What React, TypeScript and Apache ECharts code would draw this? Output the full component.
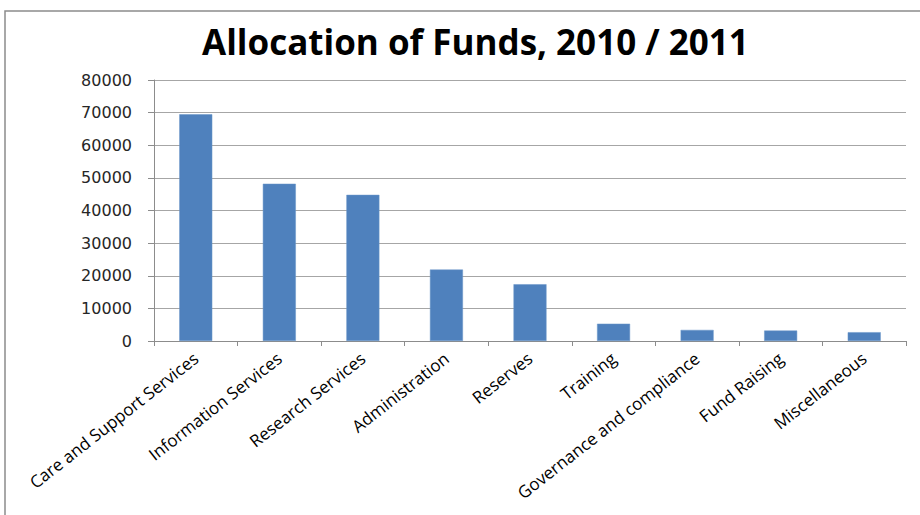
import React, { useEffect, useRef } from "react";
import * as echarts from "echarts";

const categories = [
  "Care and Support Services",
  "Information Services",
  "Research Services",
  "Administration",
  "Reserves",
  "Training",
  "Governance and compliance",
  "Fund Raising",
  "Miscellaneous",
];
const values = [69500, 48200, 44800, 21900, 17400, 5300, 3400, 3200, 2700];
const titleText = "Allocation of Funds, 2010 / 2011";

export default function App() {
  const ref = useRef<HTMLDivElement>(null);
  useEffect(() => {
    if (!ref.current) return;
    const chart = echarts.init(ref.current, null, { renderer: "svg" });
    chart.setOption({
      animation: false,
      backgroundColor: "#ffffff",
      title: {
        text: titleText,
        left: 197,
        top: 19,
        textStyle: {
          fontFamily: "Open Sans",
          fontWeight: "bold",
          fontSize: 35,
          color: "#000000",
        },
      },
      graphic: [
        {
          type: "rect",
          shape: { x: 5, y: 11, width: 1000, height: 600 },
          style: { fill: "none", stroke: "#8c8c8c", lineWidth: 1.5 },
          silent: true,
        },
      ],
      grid: { left: 154, right: 14, top: 80, bottom: 174 },
      xAxis: {
        type: "category",
        data: categories,
        axisLine: { lineStyle: { color: "#8c8c8c", width: 1 } },
        axisTick: { show: true, length: 5, lineStyle: { color: "#8c8c8c" } },
        axisLabel: {
          rotate: 38,
          interval: 0,
          margin: 15,
          fontFamily: "Open Sans",
          fontSize: 17,
          color: "#000000",
        },
      },
      yAxis: {
        type: "value",
        min: 0,
        max: 80000,
        interval: 10000,
        axisLine: { show: true, lineStyle: { color: "#8c8c8c", width: 1 } },
        axisTick: { show: true, length: 6, lineStyle: { color: "#8c8c8c" } },
        splitLine: { lineStyle: { color: "#a6a6a6", width: 1 } },
        axisLabel: {
          margin: 22,
          fontFamily: "DejaVu Sans",
          fontSize: 16,
          color: "#262626",
          formatter: (v: number) => String(v),
        },
      },
      series: [
        {
          type: "bar",
          data: values,
          barWidth: 33,
          itemStyle: { color: "#4F81BD", borderColor: "#6b96c9", borderWidth: 0.5 },
        },
      ],
    });
    return () => chart.dispose();
  }, []);
  return (
    <div
      ref={ref}
      style={{ position: "fixed", left: 0, top: 0, width: 920, height: 515 }}
    />
  );
}
